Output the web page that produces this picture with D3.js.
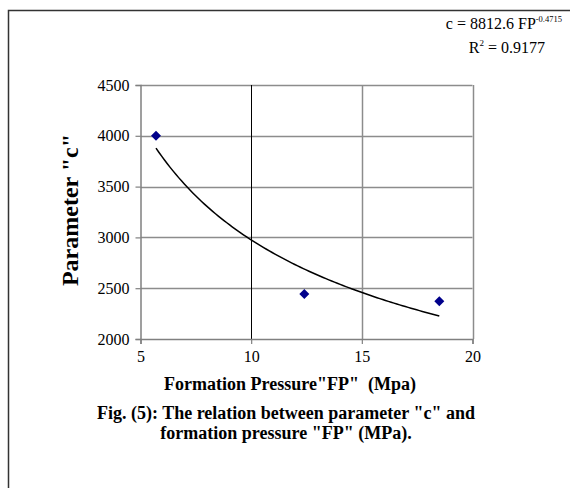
<!DOCTYPE html>
<html lang="en">
<head>
    <meta charset="UTF-8">
    <title>Parameter c vs Formation Pressure</title>
    <script src="https://d3js.org/d3.v7.min.js"></script>
    <style>
        body { margin: 0; padding: 0; background: #fff; }
        svg { font-family: "Liberation Serif", "Times New Roman", serif; display: block; }
        svg text { font-family: "Liberation Serif", "Times New Roman", serif; }
    </style>
</head>
<body>
    <svg></svg>
    <script>
        // data
        const fpValues = [5.7, 12.4, 18.5];
        const cValues = [4000, 2443, 2371];
        const xTicks = [5, 10, 15, 20];
        const yTicks = [2000, 2500, 3000, 3500, 4000, 4500];
        // power trendline reported on the chart
        const fitCoef = 8812.6;
        const fitExp = -0.4715;
        const fitR2 = 0.9177;

        const width = 570, height = 488;
        const svg = d3.select("svg").attr("width", width).attr("height", height);

        // outer frame (only left + top edges show)
        svg.append("path")
            .attr("d", "M8.5,488 V10.5 H570")
            .attr("fill", "none")
            .attr("stroke", "#333")
            .attr("stroke-width", 1.5);

        const plot = { left: 140.5, right: 472.5, top: 85, bottom: 339 };

        const x = d3.scaleLinear().domain([5, 20]).range([plot.left, plot.right]);
        const y = d3.scaleLinear().domain([2000, 4500]).range([plot.bottom, plot.top]);

        // horizontal gridlines
        svg.append("g").selectAll("line")
            .data(yTicks.slice(1))
            .join("line")
            .attr("x1", plot.left).attr("x2", plot.right)
            .attr("y1", d => Math.round(y(d)) + 0.5).attr("y2", d => Math.round(y(d)) + 0.5)
            .attr("stroke", "#8c8c8c").attr("stroke-width", 1.5);

        // vertical gridlines (the one at 10 is black in the original)
        svg.append("g").selectAll("line")
            .data(xTicks.slice(1))
            .join("line")
            .attr("x1", d => Math.round(x(d)) + 0.5).attr("x2", d => Math.round(x(d)) + 0.5)
            .attr("y1", plot.top).attr("y2", plot.bottom)
            .attr("stroke", d => d === 10 ? "#000" : "#8c8c8c")
            .attr("stroke-width", d => d === 10 ? 1 : 1.5);

        // axes
        const yAxis = svg.append("g")
            .attr("transform", `translate(${plot.left},0)`)
            .call(d3.axisLeft(y).tickValues(yTicks).tickFormat(d3.format("d")).tickSize(5).tickPadding(6));
        const xAxis = svg.append("g")
            .attr("transform", `translate(0,${plot.bottom})`)
            .call(d3.axisBottom(x).tickValues(xTicks).tickFormat(d3.format("d")).tickSize(5).tickPadding(7));

        [yAxis, xAxis].forEach(g => {
            g.attr("font-family", null).attr("font-size", null);
            g.select(".domain").attr("stroke", "#808080").attr("stroke-width", 1.5);
            g.selectAll(".tick line").attr("stroke", "#808080").attr("stroke-width", 1.2);
            g.selectAll(".tick text")
                .style("font-size", "16px")
                .attr("fill", "#000");
        });

        // trendline
        const curve = d3.range(0, 101).map(i => {
            const fp = fpValues[0] + (fpValues[fpValues.length - 1] - fpValues[0]) * i / 100;
            return [fp, fitCoef * Math.pow(fp, fitExp)];
        });
        svg.append("path")
            .datum(curve)
            .attr("d", d3.line().x(d => x(d[0])).y(d => y(d[1])))
            .attr("fill", "none")
            .attr("stroke", "#000")
            .attr("stroke-width", 1.5);

        // data points (diamonds)
        svg.append("g").selectAll("path")
            .data(fpValues.map((v, i) => [v, cValues[i]]))
            .join("path")
            .attr("d", d3.symbol(d3.symbolSquare, 50))
            .attr("transform", d => `translate(${x(d[0])},${y(d[1])}) rotate(45)`)
            .attr("fill", "#00008b");

        // axis titles
        svg.append("text")
            .attr("x", 290)
            .attr("y", 390)
            .attr("text-anchor", "middle")
            .style("font-size", "18px").attr("font-weight", "bold")
            .style("white-space", "pre")
            .text("Formation Pressure\"FP\"  (Mpa)");

        svg.append("text")
            .attr("transform", `translate(78,210) rotate(-90)`)
            .attr("text-anchor", "middle")
            .style("font-size", "24px").attr("font-weight", "bold")
            .text("Parameter \"c\"");

        // equation labels
        const eq = svg.append("text")
            .attr("x", 562).attr("y", 29)
            .attr("text-anchor", "end")
            .style("font-size", "16px");
        eq.append("tspan").text(`c = ${fitCoef} FP`);
        eq.append("tspan").attr("dy", -7).style("font-size", "8.5px").text(fitExp);

        const r2 = svg.append("text")
            .attr("x", 545).attr("y", 53)
            .attr("text-anchor", "end")
            .style("font-size", "16px");
        r2.append("tspan").text("R");
        r2.append("tspan").attr("dy", -7).style("font-size", "9px").text("2");
        r2.append("tspan").attr("dy", 7).text(` = ${fitR2}`);

        // caption
        svg.append("text")
            .attr("x", 286).attr("y", 419)
            .attr("text-anchor", "middle")
            .style("font-size", "18px").attr("font-weight", "bold")
            .text("Fig. (5): The relation between parameter \"c\" and");
        svg.append("text")
            .attr("x", 286).attr("y", 439)
            .attr("text-anchor", "middle")
            .style("font-size", "18px").attr("font-weight", "bold")
            .text("formation pressure \"FP\" (MPa).");
    </script>
</body>
</html>
